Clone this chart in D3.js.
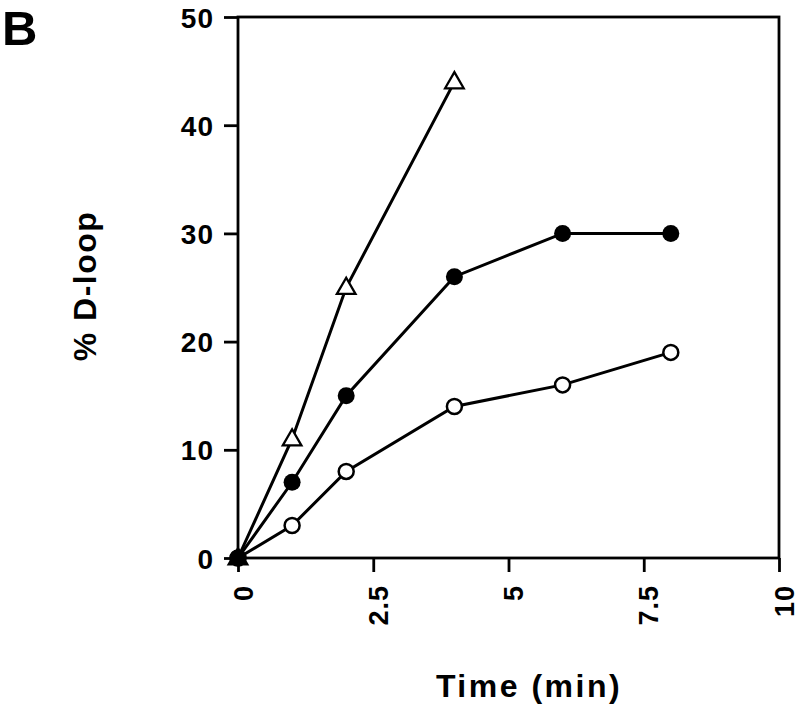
<!DOCTYPE html>
<html>
<head>
<meta charset="utf-8">
<script src="https://cdn.jsdelivr.net/npm/d3@7"></script>
<style>
  body { margin: 0; background: #fff; }
  svg text { font-family: "Liberation Sans", Arial, Helvetica, sans-serif; font-weight: bold; fill: #000; }
</style>
</head>
<body>
<script>
// Time points (min)
const timeFull = [0, 1, 2, 4, 6, 8];
const timeShort = [0, 1, 2, 4];

// % D-loop values
const triangleVals = [0, 11, 25, 44];
const filledVals = [0, 7, 15, 26, 30, 30];
const openVals = [0, 3, 8, 14, 16, 19];

const xTicks = [0, 2.5, 5, 7.5, 10];
const xTickLabels = ["0", "2.5", "5", "7.5", "10"];
const yTicks = [0, 10, 20, 30, 40, 50];

const width = 800, height = 715;
const plotLeft = 238, plotRight = 779, plotTop = 17, plotBottom = 558;

const svg = d3.select("body").append("svg")
  .attr("width", width)
  .attr("height", height);

const x = d3.scaleLinear().domain([0, 10]).range([plotLeft, plotRight]);
const y = d3.scaleLinear().domain([0, 50]).range([plotBottom, plotTop]);

// Panel letter
svg.append("text")
  .attr("x", 2)
  .attr("y", 45)
  .style("font-size", "49px")
  .text("B");

// Frame
svg.append("rect")
  .attr("x", plotLeft)
  .attr("y", plotTop)
  .attr("width", plotRight - plotLeft)
  .attr("height", plotBottom - plotTop)
  .attr("fill", "none")
  .attr("stroke", "#000")
  .attr("stroke-width", 2.8);

// Y axis
const yAxis = svg.append("g")
  .attr("transform", `translate(${plotLeft},0)`)
  .call(d3.axisLeft(y).tickValues(yTicks).tickSize(14).tickPadding(10).tickFormat(d3.format("d")));
yAxis.select(".domain").remove();
yAxis.selectAll("line").attr("stroke-width", 2.8);
yAxis.selectAll("text")
  .style("font-size", "28px")
  .style("letter-spacing", "1px")
  .attr("dy", "0.36em");

// X axis
const xAxis = svg.append("g")
  .attr("transform", `translate(0,${plotBottom})`)
  .call(d3.axisBottom(x).tickValues(xTicks).tickSize(14).tickFormat((d, i) => xTickLabels[i]));
xAxis.select(".domain").remove();
xAxis.selectAll("line").attr("stroke-width", 2.8);
xAxis.selectAll("text")
  .style("font-size", "27px")
  .style("letter-spacing", "1px")
  .attr("text-anchor", "end")
  .attr("transform", "rotate(-90)")
  .attr("x", -27)
  .attr("y", 0)
  .attr("dy", "0.52em");

// Axis titles
svg.append("text")
  .attr("transform", "translate(96,286) rotate(-90)")
  .attr("text-anchor", "middle")
  .style("font-size", "32px")
  .style("letter-spacing", "1.5px")
  .text("% D-loop");

svg.append("text")
  .attr("x", 529)
  .attr("y", 697)
  .attr("text-anchor", "middle")
  .style("font-size", "32px")
  .style("letter-spacing", "2.5px")
  .text("Time (min)");

// Lines
const line = d3.line().x(d => x(d[0])).y(d => y(d[1]));

const seriesList = [
  { name: "open", times: timeFull, vals: openVals },
  { name: "filled", times: timeFull, vals: filledVals },
  { name: "triangle", times: timeShort, vals: triangleVals }
];

seriesList.forEach(s => {
  const pts = s.times.map((t, i) => [t, s.vals[i]]);
  svg.append("path")
    .datum(pts)
    .attr("d", line)
    .attr("fill", "none")
    .attr("stroke", "#000")
    .attr("stroke-width", 3);
});

// Markers
const open = timeFull.map((t, i) => [t, openVals[i]]);
const filled = timeFull.map((t, i) => [t, filledVals[i]]);
const tri = timeShort.map((t, i) => [t, triangleVals[i]]);

svg.selectAll(".open").data(open).enter().append("circle")
  .attr("class", "open")
  .attr("cx", d => x(d[0]))
  .attr("cy", d => y(d[1]))
  .attr("r", 7.5)
  .attr("fill", "#fff")
  .attr("stroke", "#000")
  .attr("stroke-width", 2.5);

svg.selectAll(".filled").data(filled).enter().append("circle")
  .attr("class", "filled")
  .attr("cx", d => x(d[0]))
  .attr("cy", d => y(d[1]))
  .attr("r", 8.5)
  .attr("fill", "#000");

const triSym = d3.symbol().type(d3.symbolTriangle).size(150);
svg.selectAll(".tri").data(tri).enter().append("path")
  .attr("class", "tri")
  .attr("transform", d => `translate(${x(d[0])},${y(d[1]) + 1})`)
  .attr("d", triSym)
  .attr("fill", d => d[1] === 0 ? "#000" : "#fff")
  .attr("stroke", "#000")
  .attr("stroke-width", 2.3);
</script>
</body>
</html>
